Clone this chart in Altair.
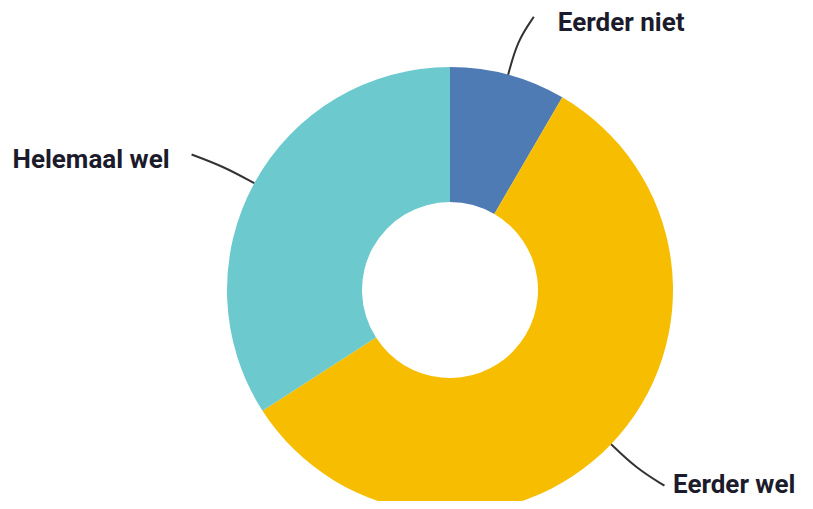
import math
import altair as alt
import pandas as pd

categories = ["Eerder niet", "Eerder wel", "Helemaal wel"]
values = [8.4, 57.5, 34.1]
colors = ["#4f7bb4", "#f7bd00", "#6cc9cd"]

W, H = 797, 493
CX, CY = 442, 282
R_OUT, R_IN = 223, 88

total = sum(values)
rows, pts = [], []
cum = 0.0
for i, (c, v) in enumerate(zip(categories, values)):
    mid = (cum + v / 2) / total * 2 * math.pi
    cum += v
    s, co = math.sin(mid), math.cos(mid)
    right = s > 0
    sign = 1 if right else -1
    p0 = (CX + R_OUT * s, CY - R_OUT * co)
    p1 = (CX + 258 * s, CY - 258 * co)
    p2 = (CX + 283 * s + sign * 10, CY - 283 * co)
    for k, (px, py) in enumerate([p0, p1, p2]):
        pts.append(dict(cat=c, k=k, px=px, py=py))
    tx = min(p2[0] + 24, W - 132) if right else p2[0] - 22
    rows.append(dict(cat=c, val=v, order=i,
                     tx=tx, ty=min(p2[1] + 6, H - 16),
                     align="left" if right else "right"))
df = pd.DataFrame(rows)
pdf = pd.DataFrame(pts)

color_scale = alt.Scale(domain=categories, range=colors)

arcs = alt.Chart(df).mark_arc(innerRadius=R_IN, outerRadius=R_OUT).encode(
    theta=alt.Theta("val:Q", stack=True),
    order=alt.Order("order:Q"),
    color=alt.Color("cat:N", scale=color_scale, legend=None),
    x=alt.value(CX), y=alt.value(CY),
)

lines = alt.Chart(pdf).mark_line(color="#333333", strokeWidth=2, interpolate="basis").encode(
    x=alt.X("px:Q", scale=None), y=alt.Y("py:Q", scale=None),
    detail="cat:N", order="k:Q",
)

left_df = df[df["align"] == "left"]
right_df = df[df["align"] == "right"]

txt_l = alt.Chart(left_df).mark_text(align="left", baseline="middle", font="Roboto",
                                     fontWeight="bold", fontSize=26, color="#1b1b2b").encode(
    x=alt.X("tx:Q", scale=None), y=alt.Y("ty:Q", scale=None), text="cat:N")
txt_r = alt.Chart(right_df).mark_text(align="right", baseline="middle", font="Roboto",
                                      fontWeight="bold", fontSize=26, color="#1b1b2b").encode(
    x=alt.X("tx:Q", scale=None), y=alt.Y("ty:Q", scale=None), text="cat:N")

chart = alt.layer(arcs, lines, txt_l, txt_r).properties(
    width=W, height=H, padding=0, autosize=alt.AutoSizeParams(type="none")
).configure_view(stroke=None)

chart.save("out.html", embed_options={"renderer": "svg", "actions": False})
